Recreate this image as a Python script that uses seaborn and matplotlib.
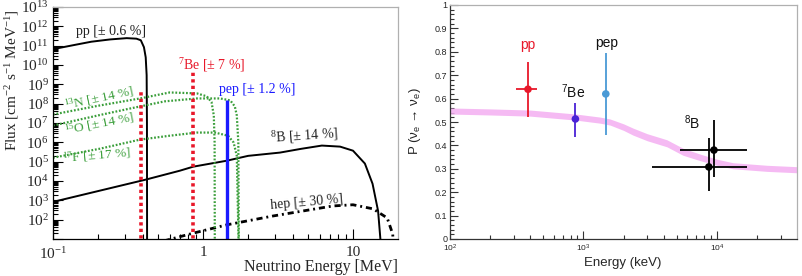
import numpy as np
import pandas as pd
import matplotlib
matplotlib.use("Agg")
import matplotlib.pyplot as plt
import seaborn as sns
from matplotlib.ticker import NullFormatter

# ---------------- left panel: solar neutrino spectra ----------------
pp_E = [0.1, 0.14, 0.18, 0.24, 0.31, 0.36, 0.385, 0.404, 0.415, 0.421, 0.423, 0.424]
pp_flux = [6.6e10, 1.1e11, 1.6e11, 2.1e11, 2.45e11, 2.3e11, 1.9e11, 8.3e10, 2.5e10, 3e9, 1e7, 1]

b8_E = [0.1, 0.41, 0.70, 0.86, 1.44, 2.0, 3.26, 4.5, 6.2, 8.2, 10.0, 12.0, 13.5, 14.7, 15.6]
b8_flux = [8.3e2, 1.15e4, 3.4e4, 5.5e4, 1.12e5, 2.0e5, 2.95e5, 4.6e5, 6.8e5, 6.0e5, 3.7e5, 8e4, 7.2e3, 2.8e2, 1]

hep_E = [0.55, 0.86, 1.44, 2.93, 7.36, 10.0, 13.6, 16.9, 18.4, 18.8]
hep_flux = [8, 20, 54, 155, 513, 590, 363, 123, 18, 1]

n13_E = [0.1, 0.2, 0.38, 0.6, 0.91, 1.06, 1.14, 1.18, 1.195, 1.199]
n13_flux = [2.75e7, 7.8e7, 1.86e8, 3.8e8, 3.4e8, 2.4e8, 1.2e8, 2.5e7, 1e6, 1]

o15_E = [0.1, 0.206, 0.326, 0.557, 0.91, 1.30, 1.52, 1.63, 1.68, 1.72, 1.735]
o15_flux = [7.4e6, 2.6e7, 5.6e7, 1.32e8, 1.86e8, 1.86e8, 1.48e8, 7.2e7, 2.45e7, 1e6, 1]

f17_E = [0.1, 0.206, 0.38, 0.6, 0.91, 1.2, 1.47, 1.6, 1.68, 1.735]
f17_flux = [1.6e5, 4.7e5, 1.38e6, 2.2e6, 3.2e6, 3.2e6, 2.2e6, 9.8e5, 2.0e5, 1]

be7_E = [0.384, 0.862]
be7_flux = [4.9e8, 4.2e9]
pep_E = [1.44]
pep_flux = [1.5e8]

left_ytick_exp = list(range(1, 14))
left_xticks = [0.1, 1, 10]
left_xticklabels = [r'$\mathdefault{10^{-1}}$', '1', '10']

# ---------------- right panel: survival probability ----------------
src_names = ['pp', '7Be', 'pep', '8B', '8B']
src_E = [384, 870, 1470, 9500, 8700]
src_P = [0.64, 0.513, 0.62, 0.38, 0.308]
src_E_lo = [312, 870, 1470, 5280, 3260]
src_E_hi = [449, 870, 1470, 16800, 16800]
src_P_lo = [0.52, 0.436, 0.445, 0.265, 0.205]
src_P_hi = [0.756, 0.58, 0.795, 0.51, 0.43]
src_colors = ['#e8182a', '#4a22d6', '#4a9ad6', '#000000', '#000000']

band_E = [100, 200, 400, 880, 1330, 1580, 2000, 2350, 3000, 4220, 5560, 7460, 10000, 13200, 23700, 40000]
band_low = [0.534, 0.530, 0.525, 0.508, 0.495, 0.487, 0.464, 0.444, 0.420, 0.394, 0.358, 0.335, 0.315, 0.300, 0.289, 0.283]
band_high = [0.560, 0.556, 0.551, 0.534, 0.521, 0.513, 0.492, 0.474, 0.450, 0.424, 0.388, 0.363, 0.341, 0.326, 0.315, 0.309]

right_xticks = [100, 1000, 10000]
right_xticklabels = [r'$\mathdefault{10^{2}}$', r'$\mathdefault{10^{3}}$', r'$\mathdefault{10^{4}}$']
right_yticks = [0, 0.1, 0.2, 0.3, 0.4, 0.5, 0.6, 0.7, 0.8, 0.9, 1.0]
right_yticklabels = ['0', '0.1', '0.2', '0.3', '0.4', '0.5', '0.6', '0.7', '0.8', '0.9', '1']

# ---------------- figure ----------------
sns.set_theme(style='ticks')
plt.rcParams['font.family'] = ['Liberation Serif', 'DejaVu Serif']
plt.rcParams['axes.unicode_minus'] = True

W, H = 802, 276
fig = plt.figure(figsize=(W / 100, H / 100), dpi=100)
fig.patch.set_facecolor('white')


def fx(px):
    return px / W


def fy(py):
    return 1 - py / H


ax1 = fig.add_axes([fx(53), fy(239), (398 - 53) / W, (239 - 7) / H])
ax2 = fig.add_axes([fx(450), fy(239), (797 - 450) / W, (239 - 5) / H])

# ---- left panel ----
ax1.set_xscale('log')
ax1.set_yscale('log')
ax1.set_xlim(0.1, 10 ** 1.3)
ax1.set_ylim(10, 1e13)

green = '#3a9e3a'
sns.lineplot(x=pp_E, y=pp_flux, ax=ax1, color='black', linewidth=1.4, sort=False, estimator=None)
sns.lineplot(x=b8_E, y=b8_flux, ax=ax1, color='black', linewidth=1.4, sort=False, estimator=None)
sns.lineplot(x=hep_E, y=hep_flux, ax=ax1, color='black', linewidth=2.0, sort=False, estimator=None,
             linestyle=(0, (2.2, 1.4, 0.7, 1.4)))
for E, F in [(n13_E, n13_flux), (o15_E, o15_flux), (f17_E, f17_flux)]:
    sns.lineplot(x=E, y=F, ax=ax1, color=green, linewidth=1.6, sort=False, estimator=None,
                 linestyle=(0, (0.8, 0.8)))
ax1.vlines(be7_E, 1, be7_flux, colors='#e8182a', linewidth=2.6, linestyles=[(0, (0.9, 0.9))])
ax1.vlines(pep_E, 1, pep_flux, colors='#1a1aff', linewidth=2.4)

ax1.set_yticks([10.0 ** k for k in left_ytick_exp],
               ['' if k == 1 else r'$\mathdefault{10^{%d}}$' % k for k in left_ytick_exp],
               fontsize=11)
ax1.set_yticks([m * 10.0 ** k for k in range(1, 13) for m in range(2, 10)], minor=True)
ax1.set_xticks(left_xticks, left_xticklabels, fontsize=11)
ax1.set_xticks([m * 10.0 ** k for k in range(-1, 2) for m in range(2, 10) if m * 10.0 ** k < 20], minor=True)
ax1.xaxis.set_minor_formatter(NullFormatter())
ax1.yaxis.set_minor_formatter(NullFormatter())
ax1.tick_params(which='both', direction='in', top=False, right=False, color='black', width=0.8)
ax1.tick_params(which='major', length=7, pad=3)
ax1.tick_params(which='minor', length=3.5)
ax1.tick_params(axis='x', which='major', pad=5)
for s in ['top', 'right']:
    ax1.spines[s].set_color('#b0b0b0')
for s in ['left', 'bottom']:
    ax1.spines[s].set_color('black')
for s in ax1.spines.values():
    s.set_linewidth(0.9)
ax1.set_xlabel('')
ax1.set_ylabel('')

serif = ['Liberation Serif', 'DejaVu Serif']
fig.text(fx(12), fy(80), r'Flux [cm$\mathdefault{^{-2}}$ s$\mathdefault{^{-1}}$ MeV$\mathdefault{^{-1}}$]',
         rotation=90, ha='center', va='center', fontsize=11, family=serif)
fig.text(fx(398), fy(267), 'Neutrino Energy [MeV]', ha='right', va='center', fontsize=11.5, family=serif)

lab_kw = dict(ha='center', va='center', fontsize=10, family=serif, rotation_mode='anchor')
fig.text(fx(111), fy(32), r'pp [± 0.6 %]', color='#222222', **lab_kw)
fig.text(fx(212), fy(65), r'$\mathdefault{^{7}}$Be [± 7 %]', color='#e8182a', **lab_kw)
fig.text(fx(257), fy(90), r'pep [± 1.2 %]', color='#1a1aff', **lab_kw)
fig.text(fx(304), fy(136), r'$\mathdefault{^{8}}$B [± 14 %]', color='#222222', rotation=4, **lab_kw)
fig.text(fx(307), fy(202), r'hep [± 30 %]', color='#222222', rotation=5, **lab_kw)
gkw = dict(lab_kw, fontsize=9.6)
fig.text(fx(99), fy(98), r'$\mathdefault{^{13}}$N [± 14 %]', color=green, rotation=12, **gkw)
fig.text(fx(99), fy(124), r'$\mathdefault{^{15}}$O [± 14 %]', color=green, rotation=11, **gkw)
fig.text(fx(97), fy(155), r'$\mathdefault{^{17}}$F [± 17 %]', color=green, rotation=5, **gkw)

# ---- right panel ----
ax2.set_xscale('log')
ax2.set_xlim(100, 10 ** 4.6)
ax2.set_ylim(0, 1)
ax2.fill_between(band_E, band_low, band_high, color='#f4aef1', linewidth=0, alpha=0.85)

for i in range(len(src_E)):
    xerr = [[src_E[i] - src_E_lo[i]], [src_E_hi[i] - src_E[i]]]
    yerr = [[src_P[i] - src_P_lo[i]], [src_P_hi[i] - src_P[i]]]
    ax2.errorbar([src_E[i]], [src_P[i]], xerr=xerr, yerr=yerr, fmt='none',
                 ecolor=src_colors[i], elinewidth=1.3, capsize=0)
df = pd.DataFrame({'E': src_E, 'P': src_P, 'name': [f'{n}{i}' for i, n in enumerate(src_names)]})
sns.scatterplot(data=df, x='E', y='P', hue='name', palette=src_colors, ax=ax2, s=30,
                edgecolor='none', legend=False, zorder=5)

sans = ['Liberation Sans', 'DejaVu Sans']
ax2.set_xticks(right_xticks, right_xticklabels, fontsize=6, family=sans)
ax2.set_xticks([m * 10.0 ** k for k in range(2, 5) for m in range(2, 10) if m * 10.0 ** k < 40000], minor=True)
ax2.set_yticks(right_yticks, right_yticklabels, fontsize=6.5, family=sans)
ax2.set_yticks(np.arange(0, 1.0001, 0.02), minor=True)
ax2.xaxis.set_minor_formatter(NullFormatter())
ax2.yaxis.set_minor_formatter(NullFormatter())
ax2.tick_params(which='both', direction='in', top=False, right=False, color='#333333', width=0.8)
ax2.tick_params(which='major', length=6, pad=2)
ax2.tick_params(which='minor', length=3)
ax2.tick_params(axis='x', which='major', pad=3)
for s in ['top', 'right']:
    ax2.spines[s].set_color('#b0b0b0')
for s in ['left', 'bottom']:
    ax2.spines[s].set_color('#333333')
for s in ax2.spines.values():
    s.set_linewidth(0.9)
ax2.set_xlabel('')
ax2.set_ylabel('')

fig.text(fx(623), fy(263), 'Energy (keV)', ha='center', va='center', fontsize=9.5, family=sans)
fig.text(fx(415), fy(121), r'P ($\mathdefault{\nu_e}$ → $\mathdefault{\nu_e}$)', rotation=90,
         ha='center', va='center', fontsize=9.5, family=sans)

rkw = dict(ha='center', va='center', fontsize=10, family=sans)
fig.text(fx(528), fy(45), 'pp', color='#e8182a', **rkw)
fig.text(fx(573), fy(92), r'$\mathdefault{^{7}}$Be', color='#111111', **rkw)
fig.text(fx(607), fy(43), 'pep', color='#111111', **rkw)
fig.text(fx(692), fy(123), r'$\mathdefault{^{8}}$B', color='#111111', **rkw)

fig.savefig('out.png', dpi=100)
